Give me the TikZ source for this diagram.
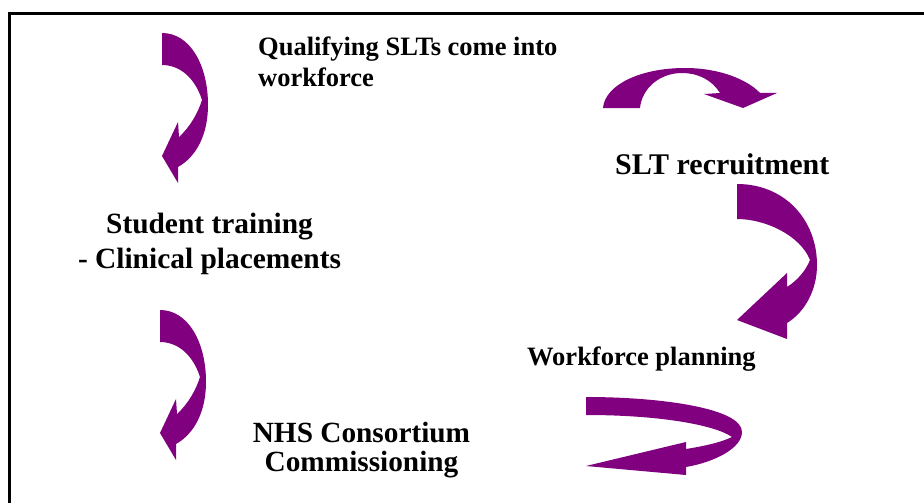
\documentclass[tikz,border=0pt]{standalone}
\usepackage{fontspec}
\setmainfont{Liberation Serif}
\definecolor{cycleplum}{RGB}{128,0,128}
\begin{document}
\begin{tikzpicture}[x=1pt,y=-1pt,
  flow/.style={fill=cycleplum, draw=none},
  lbl/.style={inner sep=0pt, font=\bfseries\fontsize{#1}{#1}\selectfont},
  frame/.style={line width=2.6pt, draw=black}]
\useasboundingbox (0,0) rectangle (924,503);
\fill[white] (0,0) rectangle (924,503);

% open frame: left side and top
\coordinate (frBottom) at (9.6,503);
\coordinate (frCorner) at (9.6,13.3);
\coordinate (frRight) at (924,13.3);
\draw[frame] (frBottom) -- (frCorner) -- (frRight);

% labels
\node[lbl=26.5, anchor=base west] (qual1) at (258,56) {Qualifying SLTs come into};
\node[lbl=26.5, anchor=base west] (qual2) at (258,87) {workforce};
\node[lbl=30, anchor=base west] (recruit) at (615,174) {SLT recruitment};
\node[lbl=29.4, anchor=base] (train1) at (209.5,233) {Student training};
\node[lbl=29.4, anchor=base] (train2) at (209.5,268) {- Clinical placements};
\node[lbl=26.5, anchor=base west] (plan) at (527,365) {Workforce planning};
\node[lbl=29.3, anchor=base] (nhs1) at (361.5,442) {NHS Consortium};
\node[lbl=29.3, anchor=base] (nhs2) at (361.5,471) {Commissioning};

% curved block arrow turning down on the left side
\tikzset{leftturn/.pic={
  \fill[flow] (162,33) .. controls (190,33) and (208,65) .. (208,105)
    .. controls (208,135) and (196,157) .. (178,167)
    -- (178,183) -- (162,156) -- (178,122) -- (179,137)
    .. controls (190,127) and (198,113) .. (202,100)
    .. controls (195,78) and (180,65) .. (162,65) -- cycle;
}}
\pic at (0,0) {leftturn};
\pic at (-2,277) {leftturn};

% arc over the top right
\fill[flow] (603,108) .. controls (605,85) and (640,68) .. (685,68)
  .. controls (720,68) and (748,80) .. (760,93)
  -- (777,93) -- (743,108) -- (704,94) -- (720,93)
  .. controls (712,80) and (698,73) .. (682,73)
  .. controls (660,73) and (642,88) .. (640,108) -- cycle;

% wide turn on the right
\fill[flow] (737,184) .. controls (785,184) and (817,220) .. (817,265)
  .. controls (817,290) and (805,312) .. (787,323)
  -- (787,339) -- (737,320) -- (787,273) -- (787,287)
  .. controls (798,280) and (806,270) .. (810,260)
  .. controls (800,235) and (765,219) .. (737,219) -- cycle;

% flat loop at the bottom right
\fill[flow] (586,397) .. controls (660,397) and (742,408) .. (742,432)
  .. controls (742,448) and (715,462) .. (686,467)
  -- (686,475) -- (586,466) -- (686,442) -- (686,449)
  .. controls (705,446) and (722,442) .. (732,437)
  .. controls (715,425) and (660,415) .. (586,415) -- cycle;
\end{tikzpicture}
\end{document}
